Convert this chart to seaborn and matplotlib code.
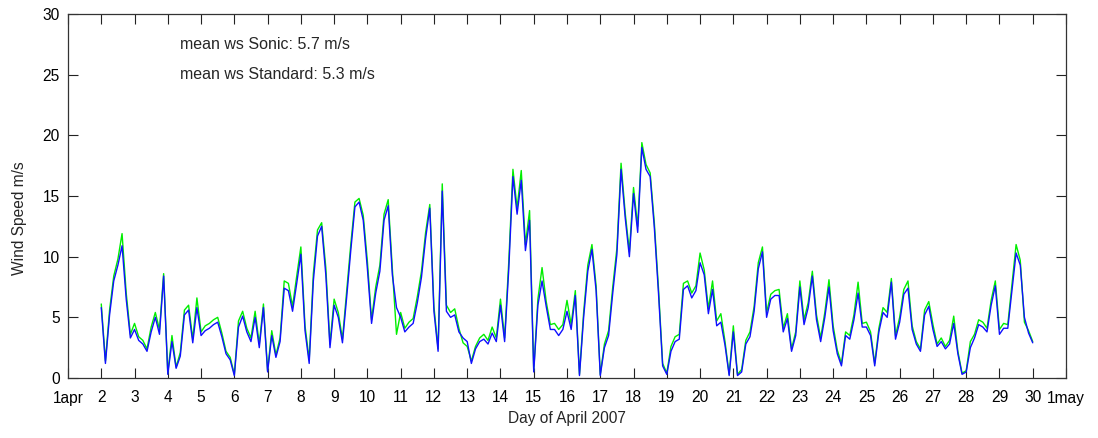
import numpy as np
import pandas as pd
import matplotlib
matplotlib.use("Agg")
import matplotlib.pyplot as plt
import seaborn as sns

# ---- data: 3-hourly wind speed (m/s), 2 Apr 00:00 to 30 Apr 00:00 ----
start_day = 2.0
step_days = 0.125

standard_ws = [
    5.8, 1.2, 5.2, 8.0, 9.3, 10.9, 6.5, 3.3,      # 2
    4.0, 3.1, 2.8, 2.2, 3.8, 5.0, 3.6, 8.4,       # 3
    0.3, 3.0, 0.8, 1.8, 5.2, 5.6, 2.9, 5.8,       # 4
    3.5, 3.9, 4.1, 4.4, 4.6, 3.4, 2.0, 1.5,       # 5
    0.2, 4.2, 5.1, 3.8, 3.0, 5.0, 2.5, 5.8,       # 6
    0.5, 3.5, 1.7, 3.0, 7.4, 7.2, 5.5, 7.8,       # 7
    10.2, 3.9, 1.2, 8.0, 11.7, 12.5, 8.5, 2.5,    # 8
    6.0, 5.0, 2.9, 6.6, 10.5, 14.1, 14.5, 13.0,   # 9
    9.0, 4.5, 7.0, 8.8, 13.0, 14.2, 8.5, 5.8,     # 10
    5.0, 3.8, 4.2, 4.5, 6.2, 8.3, 11.5, 14.0,     # 11
    5.5, 2.2, 15.4, 5.5, 5.0, 5.2, 3.8, 3.3,      # 12
    3.0, 1.2, 2.4, 3.0, 3.2, 2.8, 3.7, 3.0,       # 13
    6.0, 3.0, 9.0, 16.6, 13.5, 16.3, 10.5, 13.0,  # 14
    0.5, 6.0, 8.0, 5.9, 4.0, 4.0, 3.5, 4.0,       # 15
    5.5, 4.0, 6.8, 0.2, 5.0, 8.8, 10.6, 7.2,      # 16
    0.2, 2.5, 3.5, 7.0, 10.2, 17.2, 13.2, 10.0,   # 17
    15.2, 12.0, 19.0, 17.2, 16.6, 12.4, 7.0, 1.0, # 18
    0.3, 2.2, 3.0, 3.2, 7.3, 7.6, 6.6, 7.2,       # 19
    9.5, 8.5, 5.3, 7.3, 4.3, 4.6, 2.7, 0.2,       # 20
    3.8, 0.2, 0.5, 2.8, 3.4, 5.5, 9.0, 10.4,      # 21
    5.0, 6.5, 6.8, 6.8, 3.8, 4.9, 2.2, 3.5,       # 22
    7.5, 4.4, 5.8, 8.4, 4.8, 3.0, 5.0, 7.5,       # 23
    3.9, 2.0, 1.0, 3.5, 3.2, 4.8, 7.0, 4.2,       # 24
    4.2, 3.5, 1.0, 3.8, 5.4, 5.0, 7.9, 3.2,       # 25
    4.6, 6.9, 7.4, 4.0, 2.8, 2.2, 5.2, 5.9,       # 26
    4.0, 2.6, 3.0, 2.4, 2.8, 4.5, 2.0, 0.3,       # 27
    0.5, 2.5, 3.3, 4.4, 4.2, 3.8, 6.0, 7.6,       # 28
    3.6, 4.1, 4.1, 7.2, 10.3, 9.3, 5.0, 3.7,      # 29
    2.9,                                          # 30
]

sonic_ws = [
    6.1, 1.4, 5.6, 8.4, 9.8, 11.9, 7.0, 3.6,      # 2
    4.5, 3.4, 3.1, 2.4, 4.2, 5.4, 4.0, 8.6,       # 3
    0.4, 3.5, 0.9, 2.1, 5.6, 6.0, 3.2, 6.6,       # 4
    3.8, 4.3, 4.5, 4.8, 5.0, 3.7, 2.2, 1.7,       # 5
    0.3, 4.7, 5.5, 4.1, 3.3, 5.5, 2.8, 6.1,       # 6
    0.6, 3.9, 1.9, 3.3, 8.0, 7.8, 5.9, 8.4,       # 7
    10.8, 4.3, 1.5, 8.6, 12.2, 12.8, 9.1, 2.8,    # 8
    6.5, 5.4, 3.2, 7.1, 11.0, 14.5, 14.8, 13.4,   # 9
    9.6, 4.8, 7.5, 9.3, 13.5, 14.7, 9.0, 3.6,     # 10
    5.4, 4.1, 4.6, 4.9, 6.7, 8.8, 12.0, 14.3,     # 11
    5.9, 2.4, 16.0, 6.0, 5.4, 5.7, 4.1, 2.9,      # 12
    2.6, 1.4, 2.6, 3.3, 3.6, 3.1, 4.2, 3.3,       # 13
    6.5, 3.3, 9.6, 17.2, 14.0, 17.1, 11.0, 13.8,  # 14
    0.6, 6.5, 9.1, 6.3, 4.4, 4.5, 4.0, 4.4,       # 15
    6.4, 4.4, 7.2, 0.3, 5.4, 9.3, 11.0, 7.6,      # 16
    0.3, 2.8, 3.9, 7.5, 10.7, 17.7, 13.6, 10.4,   # 17
    15.7, 12.5, 19.4, 17.6, 16.9, 12.8, 7.4, 1.2, # 18
    0.4, 2.6, 3.4, 3.6, 7.8, 8.0, 7.0, 7.6,       # 19
    10.3, 8.9, 5.7, 8.0, 4.7, 5.3, 3.0, 0.3,      # 20
    4.3, 0.3, 0.7, 3.1, 3.8, 5.9, 9.5, 10.8,      # 21
    5.4, 6.9, 7.2, 7.3, 4.1, 5.3, 2.4, 3.8,       # 22
    8.0, 4.8, 6.2, 8.8, 5.2, 3.3, 5.4, 8.1,       # 23
    4.3, 2.3, 1.2, 3.8, 3.5, 5.2, 7.9, 4.5,       # 24
    4.6, 3.8, 1.2, 4.1, 5.8, 5.4, 8.2, 3.5,       # 25
    5.0, 7.3, 8.0, 4.3, 3.0, 2.4, 5.6, 6.3,       # 26
    4.4, 2.8, 3.3, 2.6, 3.1, 5.1, 2.2, 0.4,       # 27
    0.6, 3.0, 3.6, 4.8, 4.6, 4.1, 6.4, 8.0,       # 28
    4.0, 4.5, 4.4, 7.7, 11.0, 9.7, 4.6, 3.9,      # 29
    3.0,                                          # 30
]

tick_days = list(range(1, 32))
tick_labels = ["1apr"] + [str(d) for d in range(2, 31)] + ["1may"]
y_ticks = [0, 5, 10, 15, 20, 25, 30]
annotations = ["mean ws Sonic: 5.7 m/s", "mean ws Standard: 5.3 m/s"]

# ---- build frame ----
days = start_day + step_days * np.arange(len(standard_ws))
df = pd.DataFrame({"day": np.concatenate([days, days]),
                   "ws": np.concatenate([sonic_ws, standard_ws]),
                   "sensor": ["Sonic"] * len(days) + ["Standard"] * len(days)})

sns.set_theme(style="white")
plt.rcParams["font.family"] = ["Liberation Sans", "DejaVu Sans"]

fig = plt.figure(figsize=(10.98, 4.38), dpi=100)
ax = fig.add_axes([68 / 1098, 1 - 378 / 438, 998 / 1098, 364 / 438])

sns.lineplot(data=df, x="day", y="ws", hue="sensor",
             palette={"Sonic": "#00ee00", "Standard": "#1010ff"},
             linewidth=1.0, legend=False, ax=ax, estimator=None)

ax.set_xlim(1, 31)
ax.set_ylim(0, 30)
ax.set_xticks(tick_days)
ax.set_xticklabels(tick_labels, fontsize=11.2)
ax.set_yticks(y_ticks)
ax.set_yticklabels([str(v) for v in y_ticks], fontsize=11.2)
ax.tick_params(direction="in", length=7, width=0.8, top=True, right=True,
               bottom=True, left=True, colors="#222222", labelcolor="black")
ax.tick_params(axis="x", pad=9)
ax.tick_params(axis="y", pad=6)
for s in ax.spines.values():
    s.set_color("#333333")
    s.set_linewidth(0.9)

ax.set_xlabel("Day of April 2007", fontsize=11.2, labelpad=4)
ax.set_ylabel("Wind Speed m/s", fontsize=11.2)
ax.yaxis.set_label_coords(-0.041, 0.44)

ax.text(4.36, 27.5, annotations[0], fontsize=11.5, va="center", ha="left")
ax.text(4.36, 25.0, annotations[1], fontsize=11.5, va="center", ha="left")

fig.savefig("out.png", dpi=100, facecolor="white")
